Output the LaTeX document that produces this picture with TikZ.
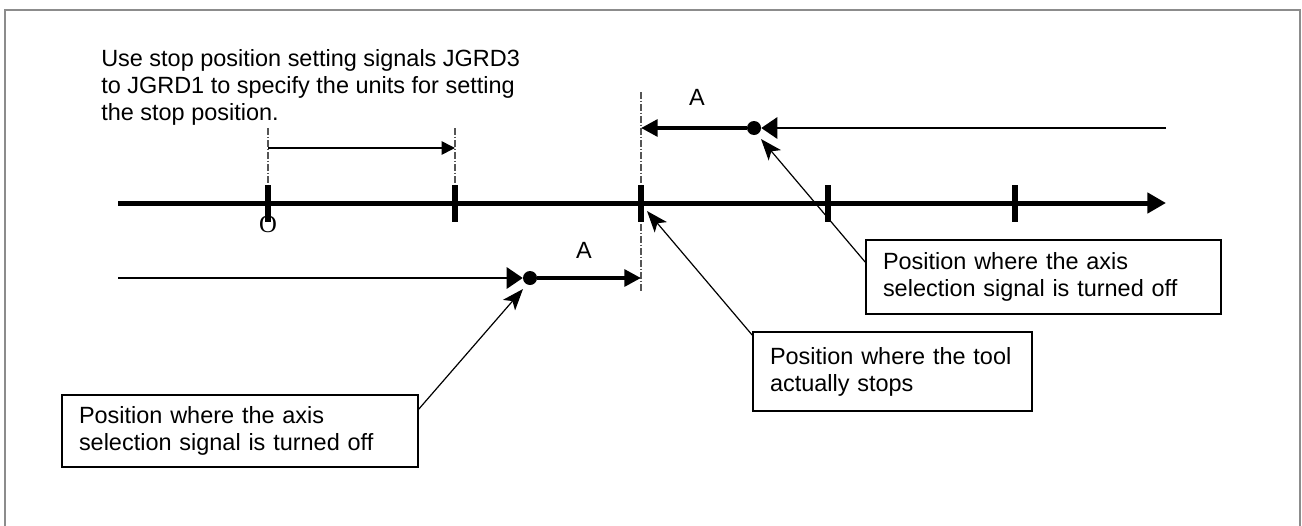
\documentclass[tikz,border=0pt]{standalone}
\usepackage{fontspec}
\setmainfont{Liberation Sans}
\newfontfamily\oserif{Liberation Serif}
\usetikzlibrary{arrows.meta,shadows}
\definecolor{framegray}{RGB}{140,140,140}
\definecolor{guidegray}{RGB}{85,85,85}
\begin{document}
\begin{tikzpicture}[x=0.75pt,y=-0.75pt,
  txt/.style={font=\fontsize{17.6}{20.25}\selectfont},
  axisline/.style={line width=3.75pt,-{Triangle[length=14pt,width=15pt]}},
  tickmark/.style={line width=4.1pt},
  guide/.style={line width=0.9pt,draw=guidegray,dash pattern=on 5pt off 1.5pt on 1pt off 1.5pt},
  thinarrow/.style={line width=1.4pt,-{Triangle[length=12pt,width=16pt]}},
  thickarrow/.style={line width=3pt,-{Triangle[length=12.5pt,width=12.5pt]}},
  smallarrow/.style={line width=1.2pt,-{Triangle[length=10pt,width=10pt]}},
  leader/.style={line width=0.9pt,-{Stealth[length=16pt,width=12pt,inset=4pt]}},
  dotmark/.style={circle,fill=black,inner sep=0pt,minimum size=10.5pt},
  callout/.style={draw=black,line width=1pt,fill=white,inner xsep=12.75pt,inner ysep=0pt,align=left,
    txt,drop shadow={shadow xshift=1.1pt,shadow yshift=-1.1pt,fill=gray!90,opacity=1}},
]
\useasboundingbox (0,0) rectangle (1302,525);
% frame
\draw[line width=1.6pt,draw=framegray] (5,540) -- (5,10) -- (1300,10) -- (1300,540);

% guide lines (behind everything)
\coordinate (g1a) at (268,128); \coordinate (g1b) at (268,185);
\coordinate (g2a) at (455,128); \coordinate (g2b) at (455,185);
\coordinate (g3a) at (641,92);  \coordinate (g3b) at (641,291);
\draw[guide] (g1a) -- (g1b);
\draw[guide] (g2a) -- (g2b);
\draw[guide] (g3a) -- (g3b);

% axis
\coordinate (axL) at (118,203);
\coordinate (axR) at (1166,203);
\draw[axisline] (axL) -- (axR);
\foreach \x/\n in {268/t1,455/t2,641/t3,828/t4,1015/t5}{
  \coordinate (\n a) at (\x,185);
  \coordinate (\n b) at (\x,222);
  \draw[tickmark] (\n a) -- (\n b);
}
\node[font=\oserif\fontsize{18.5}{18.5}\selectfont,inner sep=0pt] (olabel) at (268,224) {O};

% unit arrow
\coordinate (u1) at (268,148);
\coordinate (u2) at (455,148);
\draw[smallarrow] (u1) -- (u2);

% top text
\node[anchor=north west,align=left,inner sep=0pt,txt] (note) at (101,49)
 {Use stop position setting signals JGRD3\\to JGRD1 to specify the units for setting\\the stop position.};

% top motion arrow
\coordinate (topStart) at (1166,128);
\coordinate (topEnd) at (641,128);
\node[dotmark] (dotT) at (754,128) {};
\draw[thinarrow] (topStart) -- (dotT);
\draw[thickarrow] (dotT) -- (topEnd);
\node[txt,inner sep=0pt] (Atop) at (697,97) {A};

% bottom motion arrow
\coordinate (botStart) at (118,278);
\coordinate (botEnd) at (641,278);
\node[dotmark] (dotB) at (530,278) {};
\draw[thinarrow] (botStart) -- (dotB);
\draw[thickarrow] (dotB) -- (botEnd);
\node[txt,inner sep=0pt] (Abot) at (584,250) {A};

% callouts
\node[callout,minimum width=266.25pt,minimum height=55.5pt,text width=240.75pt] (rbox) at (1043.5,277)
 {Position where the axis\\selection signal is turned off};
\node[callout,minimum width=209.25pt,minimum height=59.25pt,text width=183.75pt] (mbox) at (892.5,371.5)
 {Position where the tool\\actually stops};
\node[callout,minimum width=267pt,minimum height=54pt,text width=241.5pt] (lbox) at (240,431)
 {Position where the axis\\selection signal is turned off};

% leaders
\coordinate (rfrom) at (866,263);
\coordinate (rtip) at (761,139);
\coordinate (mfrom) at (753,336);
\coordinate (mtip) at (647,211);
\coordinate (lfrom) at (418,410);
\coordinate (ltip) at (523,289);
\draw[leader] (rfrom) -- (rtip);
\draw[leader] (mfrom) -- (mtip);
\draw[leader] (lfrom) -- (ltip);
\end{tikzpicture}
\end{document}
